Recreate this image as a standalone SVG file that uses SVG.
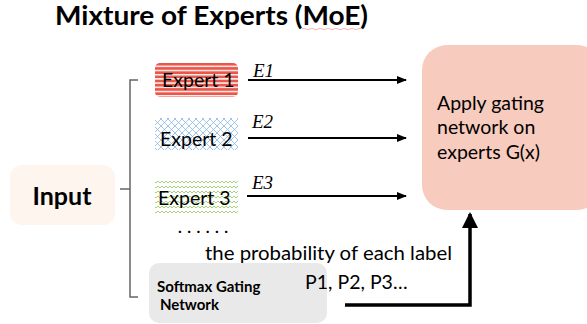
<svg xmlns="http://www.w3.org/2000/svg" width="587" height="324" viewBox="0 0 587 324">
<style>
.t{font-family:Lato,"Open Sans","Liberation Sans",sans-serif;fill:#000}
.b{font-weight:bold}
.m{font-family:"Liberation Serif","DejaVu Serif",serif;font-style:italic;font-size:19px;fill:#000}
.ar{stroke:#000;stroke-width:2;fill:none}
.br{stroke:#666;stroke-width:1.5;fill:none}
</style>
<defs>
<pattern id="stripes" width="8" height="4.2" patternUnits="userSpaceOnUse">
<rect width="8" height="4.2" fill="#e9574a"/>
<rect y="2.6" width="8" height="1.4" fill="#ffffff"/>
</pattern>
<pattern id="hatch" width="7" height="7" patternUnits="userSpaceOnUse">
<rect width="7" height="7" fill="#ffffff"/>
<path d="M0,0 L7,7 M7,0 L0,7" stroke="#86b6e4" stroke-width="0.8"/>
</pattern>
<pattern id="wave" width="8" height="5" patternUnits="userSpaceOnUse">
<rect width="8" height="5" fill="#ffffff"/>
<path d="M0,3 L2,1 L4,3 L6,1 L8,3" stroke="#a5d27a" stroke-width="1" fill="none"/>
</pattern>
<marker id="ah" markerWidth="10" markerHeight="8" refX="9" refY="4" orient="auto" markerUnits="userSpaceOnUse">
<path d="M0,0 L10,4 L0,8 Z" fill="#000"/>
</marker>
<marker id="ahb" markerWidth="16" markerHeight="16" refX="14" refY="8" orient="auto" markerUnits="userSpaceOnUse">
<path d="M0,0 L16,8 L0,16 Z" fill="#000"/>
</marker>
</defs>

<text class="t b" x="55" y="25" font-size="26" textLength="313" lengthAdjust="spacingAndGlyphs">Mixture of Experts (MoE)</text>
<path d="M302,29 q2,-1.5 4,0 t4,0 t4,0 t4,0 t4,0 t4,0 t4,0 t4,0 t4,0 t4,0 t4,0 t4,0 t4,0 t4,0 t4,0" stroke="#f4a0a0" stroke-width="0.8" fill="none"/>

<g id="input">
<rect x="10" y="165" width="105" height="60" rx="12" fill="#fdf5ee"/>
<text class="t b" x="62" y="205" font-size="25" text-anchor="middle">Input</text>
</g>

<g id="expert1">
<rect x="155" y="63" width="83" height="34" rx="5" fill="url(#stripes)"/>
<text class="t" x="162" y="87" font-size="19.5">Expert 1</text>
</g>
<g id="expert2">
<rect x="155" y="118" width="83" height="32" fill="url(#hatch)"/>
<text class="t" x="160" y="146" font-size="19.5">Expert 2</text>
</g>
<g id="expert3">
<rect x="155" y="178" width="83" height="35" fill="url(#wave)"/>
<text class="t" x="158" y="205" font-size="19.5">Expert 3</text>
</g>
<g id="dots">
<text class="t b" x="178" y="233" font-size="16" textLength="50" lengthAdjust="spacing">......</text>
</g>

<g id="gate">
<rect x="422" y="45" width="180" height="165" rx="25" fill="#f7cbbd"/>
<text class="t" x="437" y="110" font-size="19.5">Apply gating</text>
<text class="t" x="437" y="134" font-size="19.5">network on</text>
<text class="t" x="437" y="159" font-size="19.5">experts G(x)</text>
</g>

<g id="softmax">
<rect x="149" y="263" width="178" height="60" rx="10" fill="#e9e9e9"/>
<text class="t b" x="157" y="292" font-size="15">Softmax Gating</text>
<text class="t b" x="160" y="310" font-size="15">Network</text>
</g>

<g id="labels">
<text class="t" x="205" y="260" font-size="19.5" textLength="247" lengthAdjust="spacingAndGlyphs">the probability of each label</text>
<text class="t" x="305" y="289" font-size="19.5">P1, P2, P3…</text>
<text class="m" x="253" y="77">E1</text>
<text class="m" x="252" y="128">E2</text>
<text class="m" x="252" y="189">E3</text>
</g>

<g id="connectors">
<path class="br" d="M138,80 L130,80 L130,297 L138,297 M120,189 L130,189"/>
<line class="ar" x1="248" y1="80" x2="406" y2="80" marker-end="url(#ah)"/>
<line class="ar" x1="248" y1="138" x2="406" y2="138" marker-end="url(#ah)"/>
<line class="ar" x1="247" y1="196" x2="406" y2="196" marker-end="url(#ah)"/>
<path d="M345,305 L470,305 L470,214" stroke="#000" stroke-width="3.5" fill="none" marker-end="url(#ahb)"/>
</g>
</svg>
